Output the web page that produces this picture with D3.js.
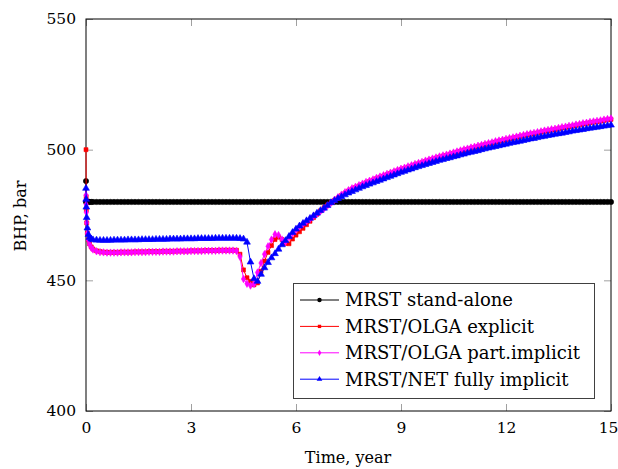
<!DOCTYPE html>
<html>
<head>
<meta charset="utf-8">
<script src="https://cdn.jsdelivr.net/npm/d3@7"></script>
<style>
body { margin: 0; background: #fff; }
text { font-family: "DejaVu Serif", serif; fill: #000; }
</style>
</head>
<body>
<div id="container"></div>
<script>
var width = 618,
    height = 469;

// time, years
var times = [0, 0.005, 0.01, 0.02, 0.04, 0.07, 0.1, 0.15, 0.2, 0.3, 0.4,
    0.5, 0.6, 0.7, 0.8, 0.9,
    1, 1.1, 1.2, 1.3, 1.4, 1.5, 1.6, 1.7, 1.8, 1.9,
    2, 2.1, 2.2, 2.3, 2.4, 2.5, 2.6, 2.7, 2.8, 2.9,
    3, 3.1, 3.2, 3.3, 3.4, 3.5, 3.6, 3.7, 3.8, 3.9,
    4, 4.1, 4.2, 4.3, 4.4, 4.5, 4.6, 4.7, 4.8, 4.9,
    5, 5.1, 5.2, 5.3, 5.4, 5.5, 5.6, 5.7, 5.8, 5.9,
    6, 6.1, 6.2, 6.3, 6.4, 6.5, 6.6, 6.7, 6.8, 6.9,
    7, 7.1, 7.2, 7.3, 7.4, 7.5, 7.6, 7.7, 7.8, 7.9,
    8, 8.1, 8.2, 8.3, 8.4, 8.5, 8.6, 8.7, 8.8, 8.9,
    9, 9.1, 9.2, 9.3, 9.4, 9.5, 9.6, 9.7, 9.8, 9.9,
    10, 10.1, 10.2, 10.3, 10.4, 10.5, 10.6, 10.7, 10.8, 10.9,
    11, 11.1, 11.2, 11.3, 11.4, 11.5, 11.6, 11.7, 11.8, 11.9,
    12, 12.1, 12.2, 12.3, 12.4, 12.5, 12.6, 12.7, 12.8, 12.9,
    13, 13.1, 13.2, 13.3, 13.4, 13.5, 13.6, 13.7, 13.8, 13.9,
    14, 14.1, 14.2, 14.3, 14.4, 14.5, 14.6, 14.7, 14.8, 14.9,
    15];

// BHP, bar
var standAlone = [488, 480, 480, 480, 480, 480, 480, 480, 480, 480, 480,
    480, 480, 480, 480, 480,
    480, 480, 480, 480, 480, 480, 480, 480, 480, 480,
    480, 480, 480, 480, 480, 480, 480, 480, 480, 480,
    480, 480, 480, 480, 480, 480, 480, 480, 480, 480,
    480, 480, 480, 480, 480, 480, 480, 480, 480, 480,
    480, 480, 480, 480, 480, 480, 480, 480, 480, 480,
    480, 480, 480, 480, 480, 480, 480, 480, 480, 480,
    480, 480, 480, 480, 480, 480, 480, 480, 480, 480,
    480, 480, 480, 480, 480, 480, 480, 480, 480, 480,
    480, 480, 480, 480, 480, 480, 480, 480, 480, 480,
    480, 480, 480, 480, 480, 480, 480, 480, 480, 480,
    480, 480, 480, 480, 480, 480, 480, 480, 480, 480,
    480, 480, 480, 480, 480, 480, 480, 480, 480, 480,
    480, 480, 480, 480, 480, 480, 480, 480, 480, 480,
    480, 480, 480, 480, 480, 480, 480, 480, 480, 480,
    480];

var olgaExplicit = [500, 482, 477, 472, 468, 465.5, 464, 462.8, 462, 461.3, 461,
    460.8, 460.7, 460.7, 460.7, 460.7,
    460.8, 460.8, 460.8, 460.8, 460.9, 460.9, 460.9, 460.9, 461.0, 461.0,
    461.0, 461.0, 461.1, 461.1, 461.1, 461.1, 461.2, 461.2, 461.2, 461.2,
    461.3, 461.3, 461.3, 461.3, 461.4, 461.4, 461.4, 461.4, 461.5, 461.5,
    461.5, 461.5, 461.5, 461.5, 460.0, 454.0, 451.0, 449.6, 448.3, 449.0,
    453.5, 457.4, 460.7, 463.3, 465.6, 466.5, 465.6, 464.1, 464.0, 465.8,
    467.3, 468.6, 469.9, 471.3, 472.6, 474.0, 475.3, 476.6, 477.8, 478.8,
    479.7, 480.6, 481.5, 482.5, 483.4, 484.2, 484.9, 485.5, 486.1, 486.7,
    487.3, 487.8, 488.3, 488.9, 489.4, 489.9, 490.4, 490.9, 491.4, 491.9,
    492.4, 492.8, 493.3, 493.7, 494.2, 494.6, 495.0, 495.5, 495.9, 496.3,
    496.7, 497.1, 497.5, 497.8, 498.2, 498.6, 499.0, 499.4, 499.8, 500.1,
    500.5, 500.8, 501.2, 501.5, 501.9, 502.2, 502.5, 502.9, 503.2, 503.5,
    503.8, 504.1, 504.4, 504.7, 505.0, 505.3, 505.6, 505.9, 506.1, 506.4,
    506.7, 507.0, 507.2, 507.5, 507.7, 508.0, 508.3, 508.5, 508.8, 509.0,
    509.3, 509.5, 509.8, 510.0, 510.3, 510.5, 510.7, 510.9, 511.2, 511.4,
    511.6];

var olgaPartImplicit = [482.6, 479, 476, 472, 468, 465.3, 463.8, 462.5, 461.8, 461.1, 460.8,
    460.7, 460.6, 460.6, 460.6, 460.6,
    460.7, 460.7, 460.7, 460.7, 460.8, 460.8, 460.8, 460.8, 460.9, 460.9,
    460.9, 460.9, 461.0, 461.0, 461.0, 461.0, 461.1, 461.1, 461.1, 461.1,
    461.2, 461.2, 461.2, 461.2, 461.3, 461.3, 461.3, 461.3, 461.4, 461.4,
    461.4, 461.4, 461.4, 461.2, 459.0, 450.5, 448.7, 448.0, 448.6, 453.0,
    456.6, 460.0, 463.0, 465.6, 467.6, 467.3, 465.6, 464.8, 466.5, 468.0,
    469.4, 470.6, 471.6, 472.6, 473.5, 474.5, 475.5, 476.5, 477.5, 478.6,
    479.7, 480.8, 481.8, 482.8, 483.7, 484.5, 485.2, 485.8, 486.4, 487.0,
    487.6, 488.1, 488.6, 489.2, 489.7, 490.2, 490.7, 491.2, 491.7, 492.2,
    492.7, 493.1, 493.6, 494.0, 494.5, 494.9, 495.3, 495.8, 496.2, 496.6,
    497.0, 497.4, 497.8, 498.1, 498.5, 498.9, 499.3, 499.7, 500.1, 500.4,
    500.8, 501.1, 501.5, 501.8, 502.2, 502.5, 502.8, 503.2, 503.5, 503.8,
    504.1, 504.4, 504.7, 505.0, 505.3, 505.6, 505.9, 506.2, 506.4, 506.7,
    507.0, 507.3, 507.5, 507.8, 508.0, 508.3, 508.6, 508.8, 509.1, 509.3,
    509.6, 509.8, 510.1, 510.3, 510.6, 510.8, 511.0, 511.2, 511.5, 511.7,
    511.9];

var netFullyImplicit = [485.2, 481, 478, 474, 470, 467.5, 466.4, 465.8, 465.5, 465.4, 465.3,
    465.3, 465.3, 465.3, 465.4, 465.4,
    465.4, 465.4, 465.5, 465.5, 465.5, 465.5, 465.6, 465.6, 465.6, 465.6,
    465.7, 465.7, 465.7, 465.7, 465.8, 465.8, 465.8, 465.8, 465.9, 465.9,
    465.9, 465.9, 466.0, 466.0, 466.0, 466.0, 466.0, 466.1, 466.1, 466.1,
    466.1, 466.1, 466.1, 466.1, 466.0, 465.8, 464.6, 457.0, 450.6, 449.6,
    452.3, 454.8, 456.8, 458.6, 460.2, 461.9, 463.6, 465.2, 466.8, 468.3,
    469.6, 470.8, 471.8, 472.8, 473.7, 474.7, 475.7, 476.7, 477.6, 478.6,
    479.7, 480.5, 481.3, 482.0, 482.7, 483.4, 484.0, 484.6, 485.2, 485.8,
    486.3, 486.8, 487.3, 487.8, 488.3, 488.8, 489.3, 489.8, 490.3, 490.8,
    491.3, 491.7, 492.2, 492.6, 493.1, 493.5, 493.9, 494.3, 494.7, 495.1,
    495.5, 495.9, 496.2, 496.6, 496.9, 497.3, 497.6, 498.0, 498.3, 498.7,
    499.0, 499.3, 499.6, 500.0, 500.3, 500.6, 500.9, 501.2, 501.5, 501.8,
    502.1, 502.4, 502.7, 502.9, 503.2, 503.5, 503.8, 504.1, 504.3, 504.6,
    504.9, 505.1, 505.4, 505.6, 505.9, 506.1, 506.3, 506.6, 506.8, 507.1,
    507.3, 507.5, 507.7, 508.0, 508.2, 508.4, 508.6, 508.8, 509.0, 509.2,
    509.4];

var seriesNames = ["MRST stand-alone", "MRST/OLGA explicit", "MRST/OLGA part.implicit", "MRST/NET fully implicit"];
var xTicks = [0, 3, 6, 9, 12, 15];
var yTicks = [400, 450, 500, 550];

var series = [
    {name: seriesNames[0], values: standAlone, color: "#000000", symbol: d3.symbolCircle, size: 22},
    {name: seriesNames[1], values: olgaExplicit, color: "#ff0000", symbol: d3.symbolSquare, size: 16},
    {name: seriesNames[2], values: olgaPartImplicit, color: "#ff00ff", symbol: d3.symbolDiamond, size: 16},
    {name: seriesNames[3], values: netFullyImplicit, color: "#0000ff", symbol: d3.symbolTriangle, size: 20}
];

var svg = d3.select("#container").append("svg")
    .attr("width", width)
    .attr("height", height);

var x = d3.scaleLinear().domain([0, 15]).range([86, 611]);
var y = d3.scaleLinear().domain([400, 550]).range([411, 19]);

// inward gray ticks on all four sides
function styleAxis(g) {
    g.select(".domain").remove();
    g.selectAll(".tick line").attr("stroke", "#a0a0a0").attr("stroke-width", 1);
    g.selectAll(".tick text").style("font-family", "'DejaVu Serif', serif").style("font-size", "15.5px").attr("fill", "#000");
}

svg.append("g").attr("transform", "translate(0,411)")
    .call(d3.axisBottom(x).tickValues(xTicks).tickSize(-7).tickPadding(11))
    .call(styleAxis)
    .selectAll(".tick text").filter(d => d === 15).attr("dx", "-3");
svg.append("g").attr("transform", "translate(0,19)")
    .call(d3.axisTop(x).tickValues(xTicks).tickSize(-7).tickFormat(""))
    .call(styleAxis);
svg.append("g").attr("transform", "translate(86,0)")
    .call(d3.axisLeft(y).tickValues(yTicks).tickSize(-7).tickPadding(10))
    .call(styleAxis);
svg.append("g").attr("transform", "translate(611,0)")
    .call(d3.axisRight(y).tickValues(yTicks).tickSize(-7).tickFormat(""))
    .call(styleAxis);

svg.append("rect")
    .attr("x", x(0)).attr("y", y(550))
    .attr("width", x(15) - x(0)).attr("height", y(400) - y(550))
    .attr("fill", "none").attr("stroke", "#000").attr("stroke-width", 1);

var line = d3.line()
    .x((d, i) => x(times[i]))
    .y(d => y(d));

series.forEach(function(s) {
    var g = svg.append("g");
    g.append("path")
        .attr("d", line(s.values))
        .attr("fill", "none")
        .attr("stroke", s.color)
        .attr("stroke-width", 1);
    g.selectAll("path.mark").data(s.values).enter().append("path")
        .attr("class", "mark")
        .attr("d", d3.symbol().type(s.symbol).size(s.size))
        .attr("transform", (d, i) => "translate(" + x(times[i]) + "," + y(d) + ")")
        .attr("fill", s.color)
        .attr("stroke", s.color)
        .attr("stroke-width", 0.6);
});

// axis titles
svg.append("text")
    .attr("x", 348).attr("y", 463)
    .attr("text-anchor", "middle")
    .style("font-size", "16px")
    .text("Time, year");
svg.append("text")
    .attr("transform", "translate(26,216) rotate(-90)")
    .attr("text-anchor", "middle")
    .style("font-size", "16px")
    .text("BHP, bar");

// legend
var legend = svg.append("g");
legend.append("rect")
    .attr("x", 293.5).attr("y", 283.5)
    .attr("width", 301).attr("height", 115)
    .attr("fill", "#fff").attr("stroke", "#404040").attr("stroke-width", 1);

series.forEach(function(s, i) {
    var cy = 300 + i * 26.4;
    legend.append("line")
        .attr("x1", 300).attr("x2", 339)
        .attr("y1", cy).attr("y2", cy)
        .attr("stroke", s.color).attr("stroke-width", 1);
    legend.append("path")
        .attr("d", d3.symbol().type(s.symbol).size(s.size * 0.7))
        .attr("transform", "translate(319.5," + cy + ")")
        .attr("fill", s.color);
    legend.append("text")
        .attr("x", 345).attr("y", cy)
        .attr("dy", "0.35em")
        .style("font-size", "18px")
        .text(s.name);
});
</script>
</body>
</html>
